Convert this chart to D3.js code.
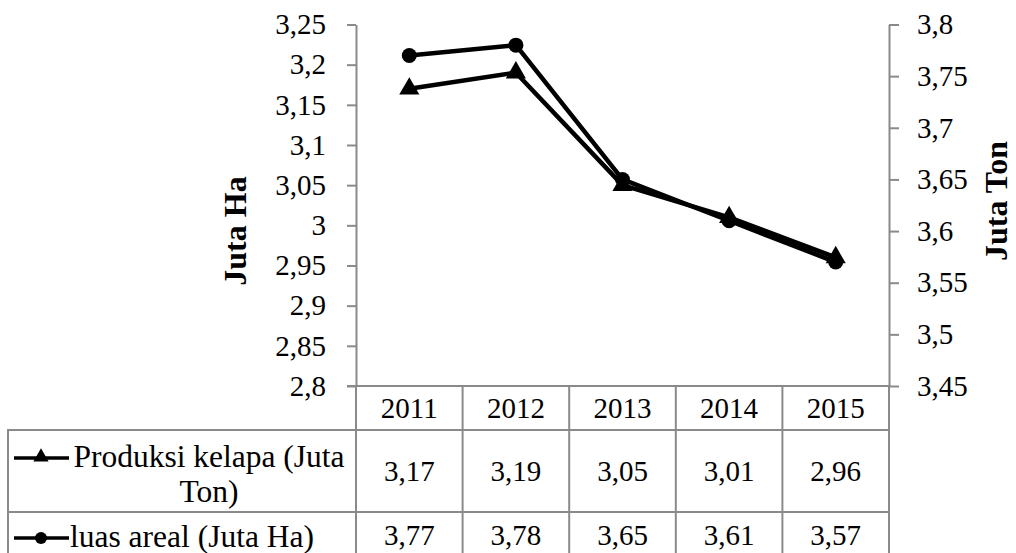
<!DOCTYPE html>
<html><head><meta charset="utf-8">
<script src="https://cdn.jsdelivr.net/npm/d3@7"></script>
<style>body{margin:0;background:#fff}svg{display:block}</style>
</head><body>
<svg id="c" width="1016" height="553" font-family="Liberation Serif"></svg>
<script>
const years = ["2011","2012","2013","2014","2015"];
const produksi = [3.17, 3.19, 3.05, 3.01, 2.96];
const luas = [3.77, 3.78, 3.65, 3.61, 3.57];
const leftTicks = [2.8,2.85,2.9,2.95,3,3.05,3.1,3.15,3.2,3.25];
const rightTicks = [3.45,3.5,3.55,3.6,3.65,3.7,3.75,3.8];
const seriesNames = ["Produksi kelapa (Juta Ton)","luas areal (Juta Ha)"];
const leftTitle = "Juta Ha", rightTitle = "Juta Ton";

const FONT = "Liberation Serif";
const svg = d3.select("#c");
const L = 356, R = 889, T = 24.5, B = 386;
const grey = "#8a8a8a";
const fmt = v => String(v).replace(".", ",");

const x = d3.scaleBand().domain(years).range([L, R]);
const yL = d3.scaleLinear().domain([2.8, 3.25]).range([B, T]);
const yR = d3.scaleLinear().domain([3.45, 3.8]).range([B, T]);

function txt(sel) { return sel.attr("font-family", FONT).attr("fill", "#000"); }

// left axis
const gL = svg.append("g").attr("transform", `translate(${L},0)`)
  .call(d3.axisLeft(yL).tickValues(leftTicks).tickFormat(fmt).tickSize(9).tickSizeOuter(0).tickPadding(21));
gL.attr("font-family", FONT);
gL.select(".domain").attr("stroke", grey).attr("stroke-width", 2);
gL.selectAll(".tick line").attr("stroke", grey).attr("stroke-width", 2);
txt(gL.selectAll(".tick text")).attr("font-size", 29);

// right axis
const gR = svg.append("g").attr("transform", `translate(${R},0)`)
  .call(d3.axisRight(yR).tickValues(rightTicks).tickFormat(fmt).tickSize(10).tickSizeOuter(0).tickPadding(18));
gR.attr("font-family", FONT);
gR.select(".domain").attr("stroke", grey).attr("stroke-width", 2);
gR.selectAll(".tick line").attr("stroke", grey).attr("stroke-width", 2);
txt(gR.selectAll(".tick text")).attr("font-size", 29);

// axis titles
txt(svg.append("text")).attr("transform", `translate(246,231) rotate(-90)`)
  .attr("text-anchor", "middle").attr("font-size", 32).attr("font-weight", "bold").text(leftTitle);
txt(svg.append("text")).attr("transform", `translate(1007,201) rotate(-90)`)
  .attr("text-anchor", "middle").attr("font-size", 32).attr("font-weight", "bold").text(rightTitle);

// data table
const tbl = svg.append("g").attr("stroke", grey).attr("stroke-width", 2).attr("fill", "none");
tbl.append("line").attr("x1", L - 9).attr("x2", R).attr("y1", B).attr("y2", B);
tbl.append("line").attr("x1", 7).attr("x2", R + 1).attr("y1", 430).attr("y2", 430);
tbl.append("line").attr("x1", 7).attr("x2", R + 1).attr("y1", 512).attr("y2", 512);
const xs = years.map(d => x(d)).concat([R]);
xs.forEach(v => tbl.append("line").attr("x1", v).attr("x2", v).attr("y1", B).attr("y2", 553));
tbl.append("line").attr("x1", 8).attr("x2", 8).attr("y1", 430).attr("y2", 553);

const cx = d => x(d) + x.bandwidth() / 2;

// header years
txt(svg.append("g").selectAll("text").data(years).join("text"))
  .attr("x", d => cx(d)).attr("y", 408).attr("dy", "0.35em")
  .attr("text-anchor", "middle").attr("font-size", 29).text(d => d);
// values
txt(svg.append("g").selectAll("text").data(produksi).join("text"))
  .attr("x", (d, i) => cx(years[i])).attr("y", 471).attr("dy", "0.35em")
  .attr("text-anchor", "middle").attr("font-size", 29).text(fmt);
txt(svg.append("g").selectAll("text").data(luas).join("text"))
  .attr("x", (d, i) => cx(years[i])).attr("y", 535).attr("dy", "0.35em")
  .attr("text-anchor", "middle").attr("font-size", 29).text(fmt);

// row headers
const rh1 = txt(svg.append("text")).attr("font-size", 31.5).attr("text-anchor", "middle");
rh1.append("tspan").attr("x", 209).attr("y", 467).text("Produksi kelapa (Juta");
rh1.append("tspan").attr("x", 209).attr("y", 502).text("Ton)");
txt(svg.append("text")).attr("font-size", 31.5).attr("x", 70).attr("y", 547).text(seriesNames[1]);

// legend keys
svg.append("line").attr("x1", 14).attr("x2", 69).attr("y1", 458).attr("y2", 458).attr("stroke", "#000").attr("stroke-width", 3.5);
svg.append("path").attr("d", d3.symbol(d3.symbolTriangle, 100)()).attr("transform", "translate(41,457)").attr("fill", "#000");
svg.append("line").attr("x1", 14).attr("x2", 69).attr("y1", 538).attr("y2", 538).attr("stroke", "#000").attr("stroke-width", 3.5);
svg.append("circle").attr("cx", 41).attr("cy", 538).attr("r", 6).attr("fill", "#000");

// series lines
const lineL = d3.line().x((d, i) => cx(years[i])).y(d => yL(d));
const lineR = d3.line().x((d, i) => cx(years[i])).y(d => yR(d));
svg.append("path").datum(luas).attr("d", lineR).attr("fill", "none").attr("stroke", "#000").attr("stroke-width", 4.5).attr("stroke-linejoin", "round");
svg.append("g").selectAll("circle").data(luas).join("circle")
  .attr("cx", (d, i) => cx(years[i])).attr("cy", d => yR(d)).attr("r", 7.5).attr("fill", "#000");
svg.append("path").datum(produksi).attr("d", lineL).attr("fill", "none").attr("stroke", "#000").attr("stroke-width", 4.5).attr("stroke-linejoin", "round");
svg.append("g").selectAll("path.tri").data(produksi).join("path").attr("class", "tri")
  .attr("d", d3.symbol(d3.symbolTriangle, 175)())
  .attr("transform", (d, i) => `translate(${cx(years[i])},${yL(d)})`).attr("fill", "#000");
</script>
</body></html>
